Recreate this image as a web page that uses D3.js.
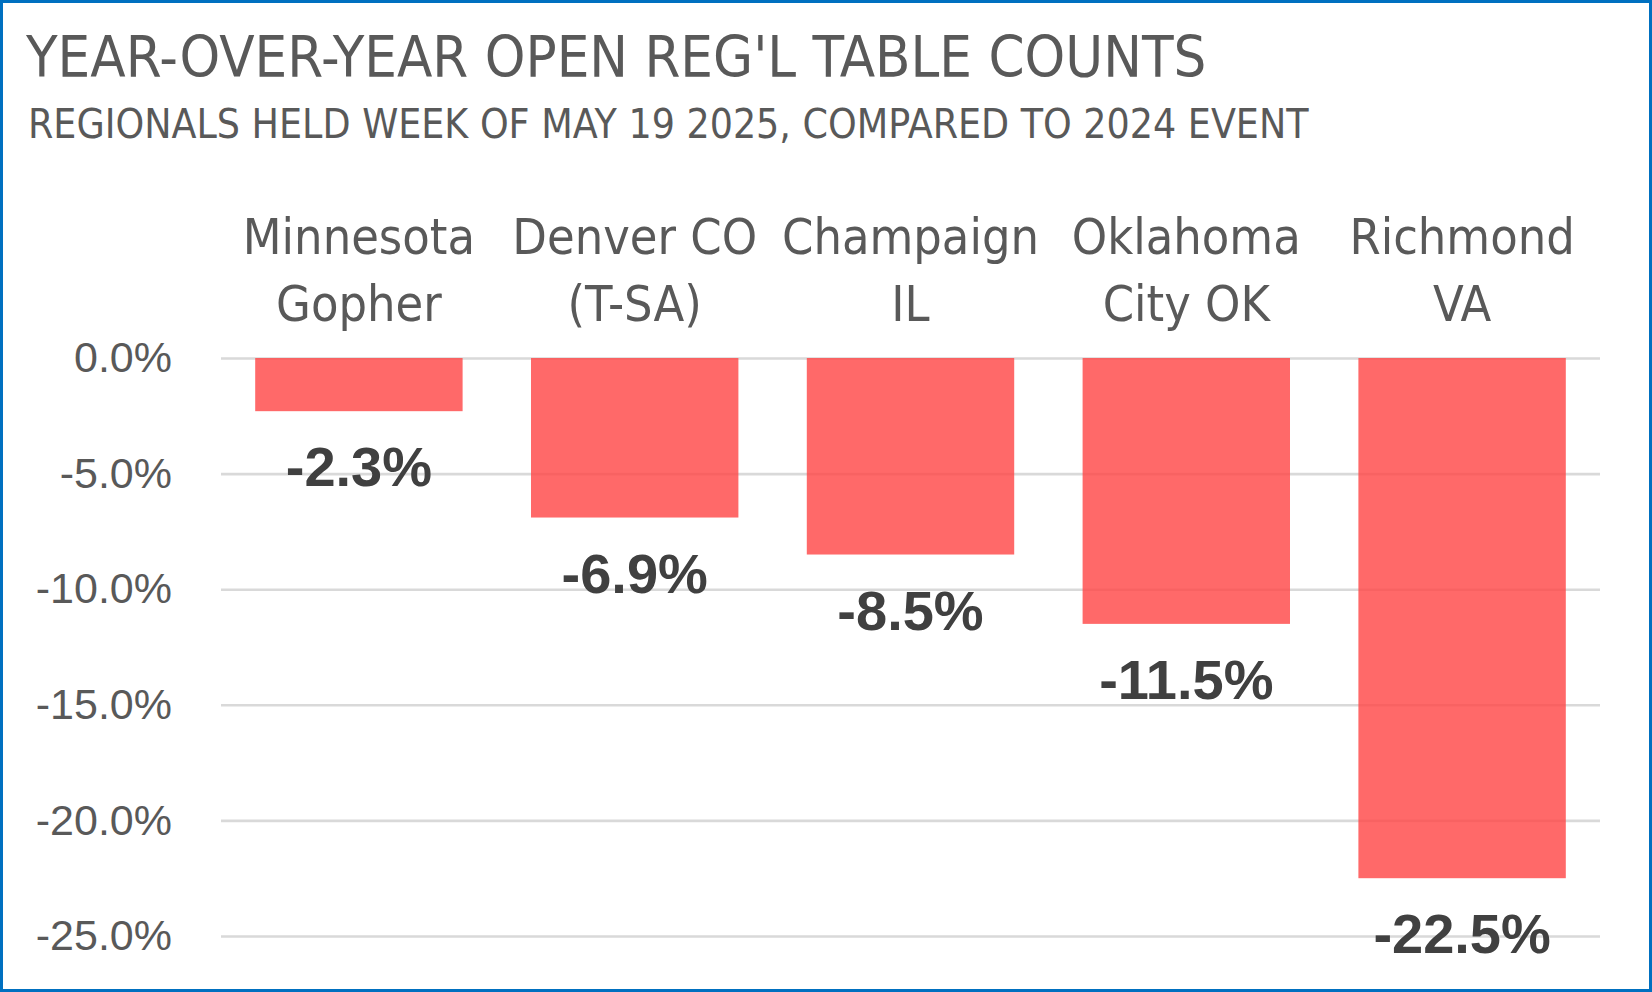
<!DOCTYPE html>
<html><head><meta charset="utf-8">
<script src="https://cdn.jsdelivr.net/npm/d3@7"></script>
<style>html,body{margin:0;padding:0;background:#fff;}</style>
</head><body>
<svg id="chart" width="1652" height="992"></svg>
<script>
const titleText = "YEAR-OVER-YEAR OPEN REG'L TABLE COUNTS";
const subtitleText = "REGIONALS HELD WEEK OF MAY 19 2025, COMPARED TO 2024 EVENT";
const categories = ["Minnesota Gopher", "Denver CO (T-SA)", "Champaign IL", "Oklahoma City OK", "Richmond VA"];
const categoryLines = [["Minnesota", "Gopher"], ["Denver CO", "(T-SA)"], ["Champaign", "IL"], ["Oklahoma", "City OK"], ["Richmond", "VA"]];
const values = [-0.023, -0.069, -0.085, -0.115, -0.225];
const tickValues = [0, -0.05, -0.10, -0.15, -0.20, -0.25];

const W = 1652, H = 992;
const svg = d3.select("#chart");
const narrow = "'DejaVu Sans Condensed', 'Liberation Sans Narrow', sans-serif";
const sans = "'Liberation Sans', Arial, sans-serif";

svg.append("rect").attr("x", 1.5).attr("y", 1.5).attr("width", W - 3).attr("height", H - 3)
  .attr("fill", "#fff").attr("stroke", "#0070C0").attr("stroke-width", 3);

svg.append("text").attr("x", 26).attr("y", 77).text(titleText)
  .attr("font-family", narrow).attr("font-size", 57.5).attr("fill", "#595959");
svg.append("text").attr("x", 28).attr("y", 138).text(subtitleText)
  .attr("font-family", narrow).attr("font-size", 40.6).attr("fill", "#595959");

const left = 221, right = 1600;
const x = d3.scaleBand().domain(categories).range([left, right]).paddingInner(0.248).paddingOuter(0.124);
const y = d3.scaleLinear().domain([-0.25, 0]).range([936, 358]);

const fmt = d => d3.format(".1%")(d).replace("\u2212", "-");

const yAxis = svg.append("g").attr("transform", `translate(${left},0)`)
  .call(d3.axisLeft(y).tickValues(tickValues).tickSize(-(right - left)).tickPadding(49).tickFormat(fmt));
yAxis.select(".domain").remove();
yAxis.selectAll(".tick line").attr("stroke", "#d9d9d9").attr("stroke-width", 2.6);
yAxis.selectAll(".tick text").attr("font-family", sans).attr("font-size", 43).attr("fill", "#595959");

svg.append("g").selectAll("rect").data(values).join("rect")
  .attr("x", (d, i) => x(categories[i]))
  .attr("width", x.bandwidth())
  .attr("y", y(0))
  .attr("height", d => y(d) - y(0))
  .attr("fill", "rgb(255,72,72)").attr("fill-opacity", 0.82);

svg.append("g").selectAll("text").data(values).join("text")
  .attr("x", (d, i) => x(categories[i]) + x.bandwidth() / 2)
  .attr("y", d => y(d) + 75)
  .attr("text-anchor", "middle")
  .attr("font-family", sans).attr("font-weight", "bold").attr("font-size", 56).attr("fill", "#404040")
  .text(d => fmt(d));

const cat = svg.append("g").selectAll("text").data(categoryLines).join("text")
  .attr("text-anchor", "middle")
  .attr("font-family", narrow).attr("font-size", 50).attr("fill", "#595959");
cat.each(function(lines, i) {
  const cx = x(categories[i]) + x.bandwidth() / 2;
  d3.select(this).selectAll("tspan").data(lines).join("tspan")
    .attr("x", cx).attr("y", (d, j) => 254 + j * 67).text(d => d);
});
</script>
</body></html>
